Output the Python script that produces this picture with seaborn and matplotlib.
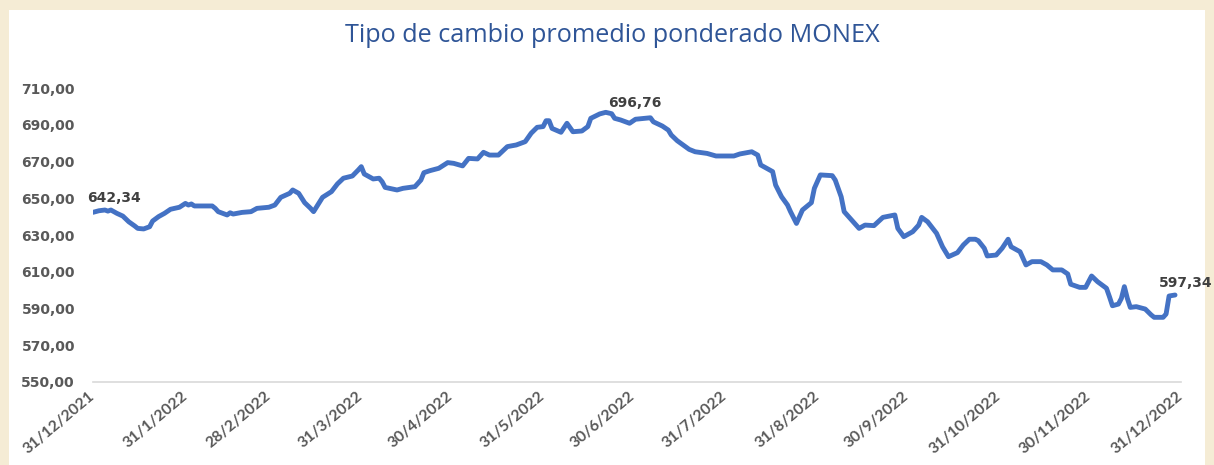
import numpy as np
import pandas as pd
import matplotlib
matplotlib.use("Agg")
import matplotlib.pyplot as plt
from matplotlib.patches import Rectangle
import seaborn as sns

sns.set_style("white")
plt.rcParams['font.family'] = ['DejaVu Sans']

# Daily MONEX weighted average rate
dates = [
    "2021-12-31", "2022-01-02", "2022-01-04", "2022-01-05", "2022-01-06", "2022-01-08",
    "2022-01-10", "2022-01-12", "2022-01-14", "2022-01-15", "2022-01-17", "2022-01-19",
    "2022-01-20", "2022-01-22", "2022-01-24", "2022-01-26", "2022-01-29", "2022-01-31",
    "2022-02-01", "2022-02-02", "2022-02-03", "2022-02-09", "2022-02-10", "2022-02-11",
    "2022-02-14", "2022-02-15", "2022-02-16", "2022-02-19", "2022-02-22", "2022-02-24",
    "2022-02-28", "2022-03-02", "2022-03-04", "2022-03-07", "2022-03-08", "2022-03-10",
    "2022-03-12", "2022-03-14", "2022-03-15", "2022-03-18", "2022-03-21", "2022-03-23",
    "2022-03-25", "2022-03-28", "2022-03-30", "2022-03-31", "2022-04-01", "2022-04-04",
    "2022-04-06", "2022-04-07", "2022-04-08", "2022-04-12", "2022-04-14", "2022-04-18",
    "2022-04-20", "2022-04-21", "2022-04-23", "2022-04-26", "2022-04-29", "2022-05-01",
    "2022-05-04", "2022-05-06", "2022-05-09", "2022-05-11", "2022-05-13", "2022-05-16",
    "2022-05-19", "2022-05-22", "2022-05-25", "2022-05-27", "2022-05-29", "2022-05-31",
    "2022-06-01", "2022-06-02", "2022-06-03", "2022-06-06", "2022-06-08", "2022-06-10",
    "2022-06-13", "2022-06-15", "2022-06-16", "2022-06-19", "2022-06-21", "2022-06-23",
    "2022-06-24", "2022-06-26", "2022-06-29", "2022-07-01", "2022-07-06", "2022-07-07",
    "2022-07-10", "2022-07-12", "2022-07-13", "2022-07-15", "2022-07-19", "2022-07-21",
    "2022-07-25", "2022-07-28", "2022-08-03", "2022-08-05", "2022-08-09", "2022-08-11",
    "2022-08-12", "2022-08-16", "2022-08-17", "2022-08-19", "2022-08-21", "2022-08-22",
    "2022-08-24", "2022-08-26", "2022-08-29", "2022-08-30", "2022-09-01", "2022-09-05",
    "2022-09-06", "2022-09-08", "2022-09-09", "2022-09-12", "2022-09-14", "2022-09-16",
    "2022-09-19", "2022-09-22", "2022-09-26", "2022-09-27", "2022-09-29", "2022-10-02",
    "2022-10-04", "2022-10-05", "2022-10-07", "2022-10-10", "2022-10-12", "2022-10-14",
    "2022-10-17", "2022-10-19", "2022-10-21", "2022-10-23", "2022-10-24", "2022-10-26",
    "2022-10-27", "2022-10-30", "2022-11-01", "2022-11-03", "2022-11-04", "2022-11-07",
    "2022-11-08", "2022-11-09", "2022-11-11", "2022-11-14", "2022-11-16", "2022-11-18",
    "2022-11-21", "2022-11-23", "2022-11-24", "2022-11-27", "2022-11-29", "2022-12-01",
    "2022-12-03", "2022-12-06", "2022-12-07", "2022-12-08", "2022-12-10", "2022-12-11",
    "2022-12-12", "2022-12-13", "2022-12-14", "2022-12-16", "2022-12-19", "2022-12-21",
    "2022-12-22", "2022-12-25", "2022-12-26", "2022-12-27", "2022-12-29",
]
rates = [
    642.34, 643.2, 643.6, 643.0, 643.6, 641.8,
    640.3, 637.2, 634.9, 633.6, 633.3, 634.5,
    637.6, 640.0, 641.8, 644.0, 645.1, 647.2,
    646.3, 646.9, 645.8, 645.8, 644.5, 642.7,
    640.9, 642.1, 641.4, 642.3, 642.7, 644.5,
    645.1, 646.3, 650.5, 652.7, 654.5, 652.7,
    647.6, 644.5, 642.7, 650.5, 653.6, 657.8,
    660.9, 662.1, 665.4, 667.2, 663.2, 660.5,
    660.9, 659.0, 655.9, 654.5, 655.4, 656.3,
    659.9, 663.9, 665.0, 666.3, 669.4, 669.0,
    667.6, 671.7, 671.4, 675.0, 673.5, 673.5,
    678.1, 679.0, 680.8, 685.4, 688.6, 689.0,
    692.2, 692.2, 688.0, 685.9, 690.8, 686.2,
    686.6, 689.0, 693.5, 695.9, 696.76, 696.0,
    693.5, 692.6, 690.8, 693.0, 693.8, 691.6,
    689.3, 687.1, 684.4, 681.3, 676.6, 675.3,
    674.4, 673.0, 673.0, 674.1, 675.3, 673.5,
    668.1, 664.5, 657.2, 650.8, 646.3, 642.7,
    636.3, 643.6, 647.6, 655.4, 662.7, 662.3,
    659.9, 650.8, 642.7, 637.2, 633.6, 635.4,
    635.1, 639.6, 640.9, 633.6, 629.1, 631.8,
    635.4, 639.6, 637.2, 630.9, 623.6, 618.2,
    620.4, 624.6, 627.7, 627.7, 626.9, 622.8,
    618.6, 619.1, 622.8, 627.7, 623.6, 620.9,
    617.3, 613.7, 615.5, 615.5, 613.7, 611.0,
    611.0, 608.8, 603.2, 601.5, 601.5, 607.7,
    604.6, 601.0, 596.4, 591.5, 592.4, 595.5,
    601.9, 595.5, 590.6, 591.0, 589.7, 586.5,
    585.2, 585.2, 587.0, 596.8, 597.34,
]

tick_dates = ["2021-12-31", "2022-01-31", "2022-02-28", "2022-03-31", "2022-04-30",
              "2022-05-31", "2022-06-30", "2022-07-31", "2022-08-31", "2022-09-30",
              "2022-10-31", "2022-11-30", "2022-12-31"]
tick_labels = ["31/12/2021", "31/1/2022", "28/2/2022", "31/3/2022", "30/4/2022",
               "31/5/2022", "30/6/2022", "31/7/2022", "31/8/2022", "30/9/2022",
               "31/10/2022", "30/11/2022", "31/12/2022"]
y_ticks = [550, 570, 590, 610, 630, 650, 670, 690, 710]

title = "Tipo de cambio promedio ponderado MONEX"

df = pd.DataFrame({"fecha": pd.to_datetime(dates), "tipo": rates})

W, H = 1214, 465
fig = plt.figure(figsize=(W / 100, H / 100), dpi=100, facecolor="#F5ECD5")
# white chart area inside the beige frame (drawn behind the axes)
fig.patches.append(Rectangle((9 / W, 0), (1205 - 9) / W, (H - 10) / H,
                             transform=fig.transFigure, facecolor="white",
                             edgecolor="none", zorder=-10))

ax = fig.add_axes([93 / W, (H - 382) / H, (1181 - 93) / W, (382 - 88) / H])
ax.set_facecolor("none")

sns.lineplot(data=df, x="fecha", y="tipo", color="#4472C4", linewidth=3.5,
             solid_joinstyle="round", solid_capstyle="round", ax=ax)

ax.set_xlim(pd.Timestamp("2021-12-31"), pd.Timestamp("2022-12-31"))
ax.set_ylim(550, 710)
ax.set_xlabel("")
ax.set_ylabel("")

ax.set_yticks(y_ticks)
ax.set_yticklabels([f"{v:.2f}".replace(".", ",") for v in y_ticks])
ax.set_xticks(pd.to_datetime(tick_dates))
ax.set_xticklabels(tick_labels, rotation=40, ha="right", va="center",
                   rotation_mode="anchor", family=["Lato", "DejaVu Sans"])

for side in ["left", "right", "top"]:
    ax.spines[side].set_visible(False)
ax.spines["bottom"].set_color("#D9D9D9")
ax.spines["bottom"].set_linewidth(1.2)

ax.tick_params(axis="x", length=5, width=1.2, color="#D9D9D9", pad=4,
               labelsize=11.3, labelcolor="#595959")
ax.tick_params(axis="y", length=0, pad=13, labelsize=10, labelcolor="#595959")
for lbl in ax.get_xticklabels() + ax.get_yticklabels():
    lbl.set_fontweight("bold")

fig.text(612 / W, (H - 36) / H, title, ha="center", va="center",
         color="#2F5597", fontsize=18.2, family=["Open Sans", "DejaVu Sans"])

# data labels: first, maximum, last
i_max = int(np.argmax(rates))
for i, (dx, dy) in [(0, (15, 10)), (i_max, (21, 7)), (len(rates) - 1, (8, 9))]:
    ax.annotate(f"{rates[i]:.2f}".replace(".", ","),
                xy=(df["fecha"][i], rates[i]), xytext=(dx, dy),
                textcoords="offset points", ha="center", va="center",
                fontsize=10, fontweight="bold", color="#404040",
                annotation_clip=False)

fig.savefig("out.png", dpi=100, facecolor=fig.get_facecolor())
